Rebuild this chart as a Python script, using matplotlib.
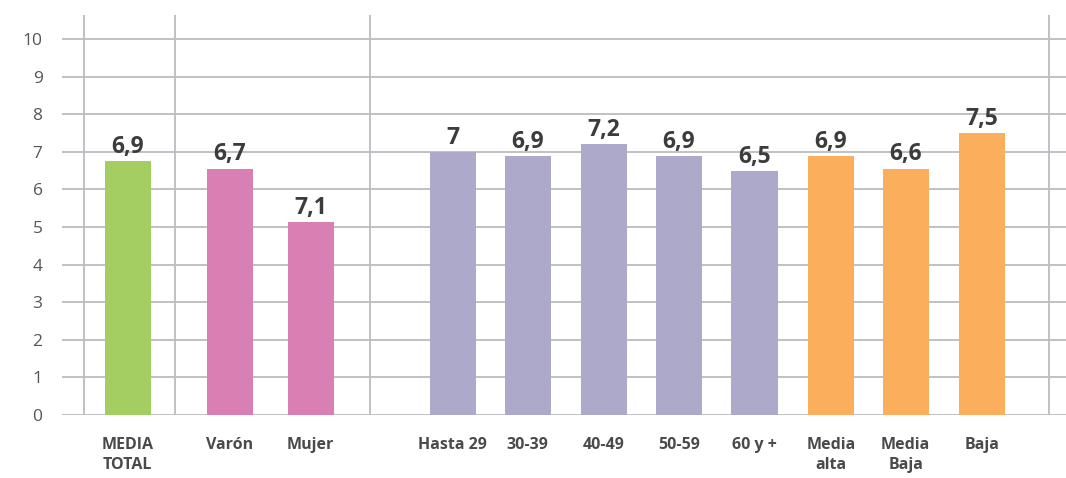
import matplotlib.pyplot as plt

# categories and values
categories = ['MEDIA\nTOTAL', 'Varón', 'Mujer', 'Hasta 29', '30-39', '40-49',
              '50-59', '60 y +', 'Media\nalta', 'Media\nBaja', 'Baja']
bar_heights = [6.76, 6.55, 5.13, 7.0, 6.89, 7.21, 6.89, 6.49, 6.89, 6.55, 7.5]
value_labels = ['6,9', '6,7', '7,1', '7', '6,9', '7,2', '6,9', '6,5', '6,9', '6,6', '7,5']
groups = ['total', 'sexo', 'sexo', 'edad', 'edad', 'edad', 'edad', 'edad', 'clase', 'clase', 'clase']

group_colors = {'total': '#A5CE62', 'sexo': '#D87FB3', 'edad': '#ADA9CB', 'clase': '#FBAF5D'}

# layout
positions = [0, 1.35, 2.42, 4.30, 5.29, 6.30, 7.29, 8.29, 9.30, 10.29, 11.30]
separators = [-0.58, 0.62, 3.20, 12.18]

plt.rcParams['font.family'] = ['Open Sans', 'DejaVu Sans']

fig = plt.figure(figsize=(10.66, 4.78), dpi=100)
ax = fig.add_axes([62 / 1066, 63 / 478, 1004 / 1066, 400 / 478])

grid_color = '#B9BDC3'
for y in range(0, 11):
    ax.axhline(y, color=grid_color, linewidth=1.3, zorder=1)
for x in separators:
    ax.axvline(x, ymin=0, ymax=1, color=grid_color, linewidth=1.3, zorder=1)

colors = [group_colors[g] for g in groups]
bars = ax.bar(positions, bar_heights, width=0.61, color=colors, zorder=2)

for bar, text in zip(bars, value_labels):
    ax.annotate(text, (bar.get_x() + bar.get_width() / 2, bar.get_height()),
                xytext=(0, 6), textcoords='offset points', ha='center', va='baseline',
                fontsize=16.5, fontweight='bold', color='#3C3C3C')

ax.set_xlim(-0.87, 12.41)
ax.set_ylim(0, 10.64)
ax.set_yticks(range(0, 11))
ax.set_yticklabels([str(v) for v in range(0, 11)], fontsize=12.5, color='#555555')
ax.set_xticks(positions)
ax.set_xticklabels(categories, fontsize=11.5, color='#4A4A4A', fontweight='bold',
                   linespacing=1.3, va='top', ha='center')
ax.tick_params(axis='y', length=0, pad=14)
ax.tick_params(axis='x', length=0, pad=16)

for spine in ax.spines.values():
    spine.set_visible(False)

plt.savefig('out.png', dpi=100)
